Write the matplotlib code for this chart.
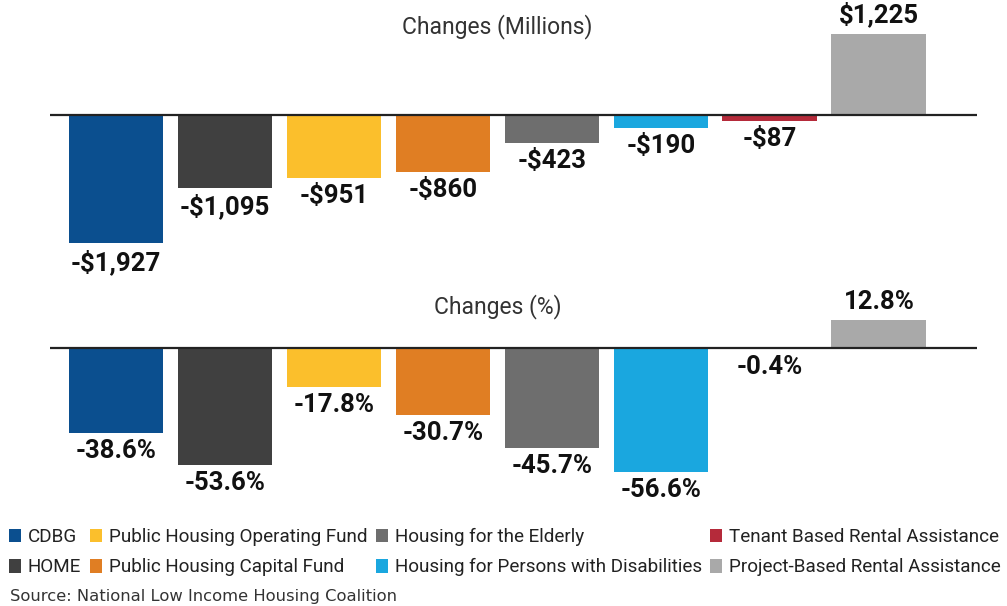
import matplotlib
matplotlib.use("Agg")
import matplotlib.pyplot as plt
from matplotlib.patches import Patch

# Data
programs = ["CDBG", "HOME", "Public Housing Operating Fund", "Public Housing Capital Fund",
            "Housing for the Elderly", "Housing for Persons with Disabilities",
            "Tenant Based Rental Assistance", "Project-Based Rental Assistance"]
change_millions = [-1927, -1095, -951, -860, -423, -190, -87, 1225]
change_pct = [-38.6, -53.6, -17.8, -30.7, -45.7, -56.6, -0.4, 12.8]
colors = ["#0b4f8f", "#404040", "#fbbf2c", "#e07e23", "#6e6e6e", "#1aa7df", "#b52a3a", "#a9a9a9"]

FONT = ["Roboto", "DejaVu Sans"]

W, H = 1007, 606
fig = plt.figure(figsize=(W / 100, H / 100), dpi=100)


def px_axes(left, top, right, bottom):
    return fig.add_axes([left / W, 1 - bottom / H, (right - left) / W, (bottom - top) / H])


def draw(ax, values, fmt, title, base_px, top_px, bot_px, px_per_unit, title_y):
    x = list(range(len(values)))
    ax.bar(x, values, width=0.87, color=colors, zorder=2)
    ax.axhline(0, color="#222222", lw=1.6, zorder=3)
    ax.set_xlim(-0.605, 7.9)
    ax.set_ylim(-(bot_px - base_px) / px_per_unit, (base_px - top_px) / px_per_unit)
    ax.axis("off")
    for xi, v in zip(x, values):
        off = 6 / px_per_unit
        ax.text(xi, v - off if v < 0 else v + off, fmt(v), ha="center",
                va="top" if v < 0 else "bottom", fontsize=18.5, fontweight="bold",
                family=FONT, color="#111111")
    ax.text(3.5, (base_px - title_y) / px_per_unit, title, ha="center", va="center",
            fontsize=16.5, family=FONT, color="#333333")


def fmt_money(v):
    return ("-" if v < 0 else "") + "${:,}".format(abs(v))


def fmt_pct(v):
    return "{:.1f}%".format(v)


ax1 = px_axes(50, 5, 977, 285)
draw(ax1, change_millions, fmt_money, "Changes (Millions)", 115, 5, 285, 0.0664, 27)
ax2 = px_axes(50, 290, 977, 505)
draw(ax2, change_pct, fmt_pct, "Changes (%)", 348, 290, 505, 2.19, 307)

handles = [Patch(facecolor=c, edgecolor="none") for c in colors]
fig.legend(handles, programs, ncol=4, loc="upper left", bbox_to_anchor=(9 / W, 1 - 528 / H),
           frameon=False, prop={"family": FONT, "size": 13.6},
           handlelength=0.65, handleheight=0.75, handletextpad=0.35, columnspacing=0.45,
           labelspacing=0.65, borderpad=0, borderaxespad=0, labelcolor="#222222")

fig.text(10 / W, 1 - 597 / H, "Source: National Low Income Housing Coalition", ha="left",
         va="center", fontsize=11.8, color="#333333")

fig.savefig("out.png", dpi=100)
